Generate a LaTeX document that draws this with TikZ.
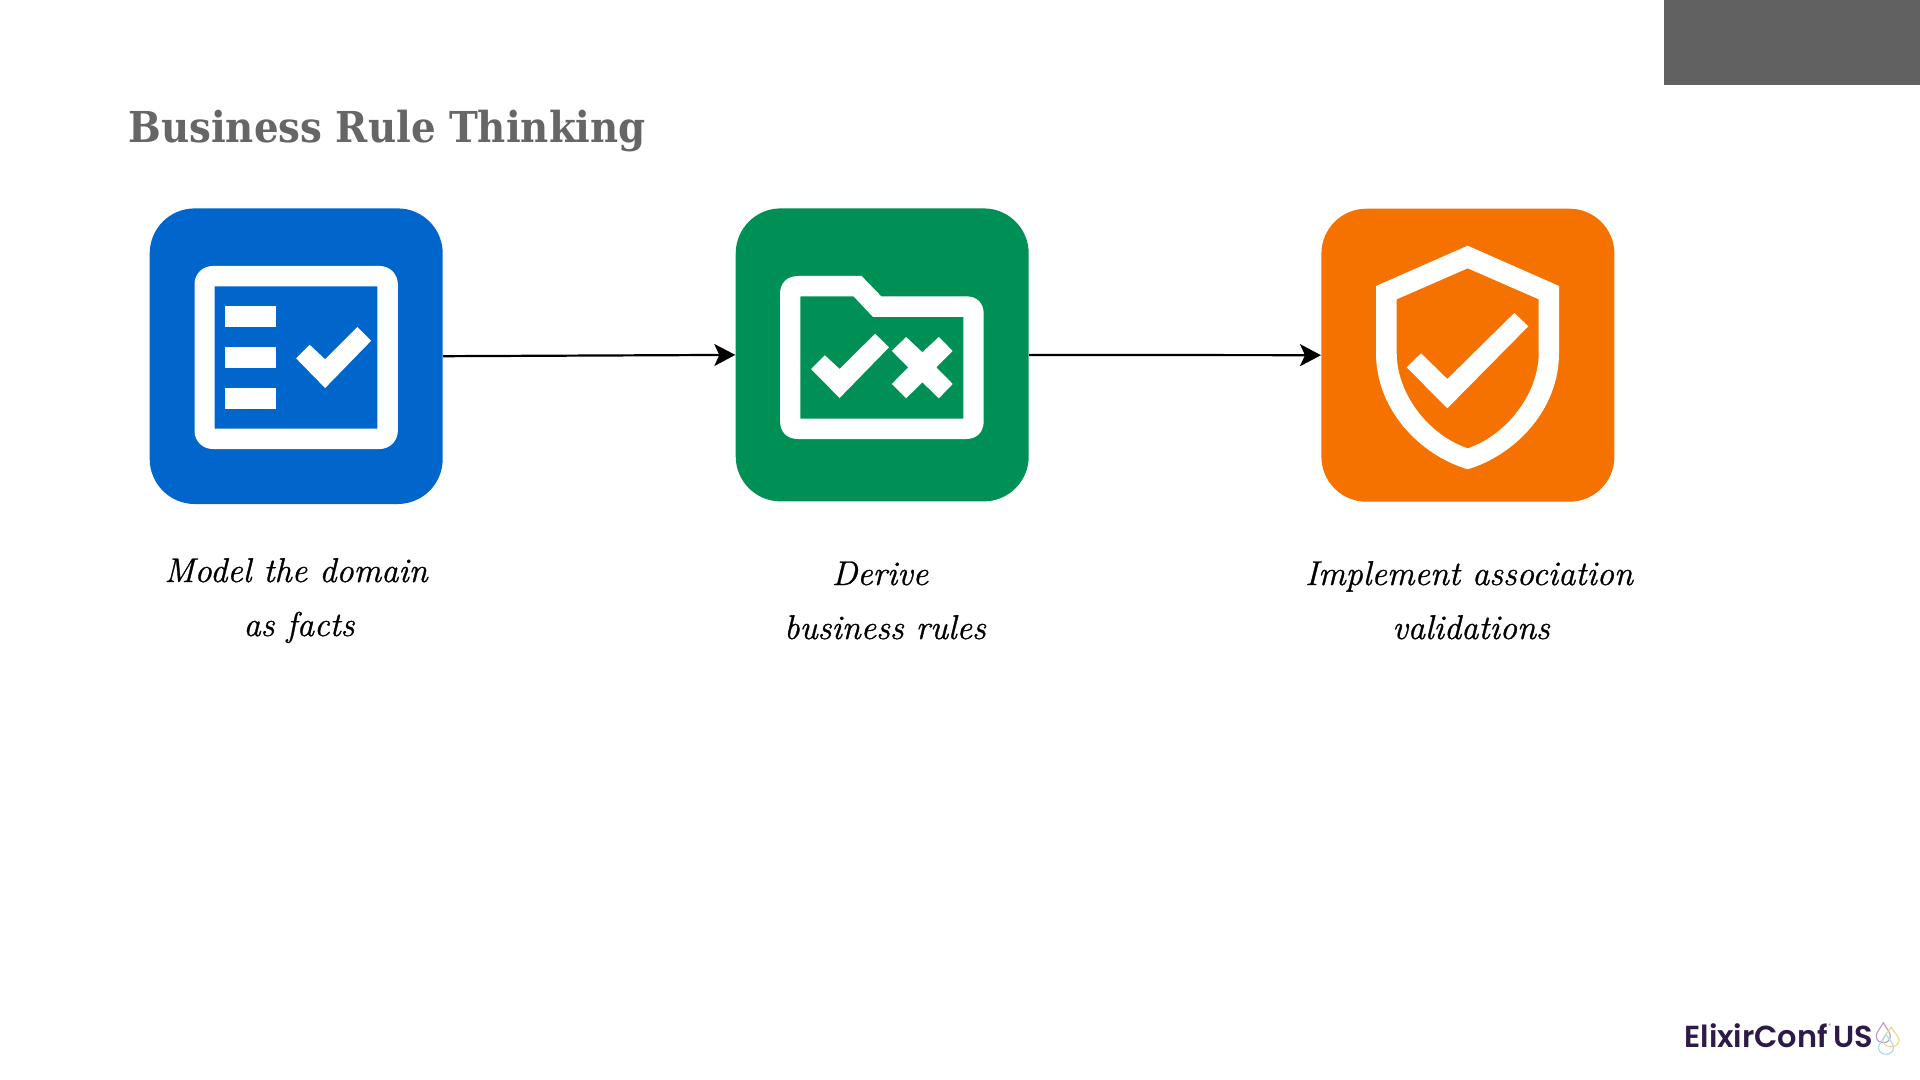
\documentclass[tikz,border=0pt]{standalone}
\usepackage{fontspec}
\usetikzlibrary{arrows.meta}
\newfontfamily\titlefont[FakeStretch=0.91]{DejaVu Serif}
\newfontfamily\logofont{Poppins SemiBold}
\newfontfamily\handfont[ItalicFeatures={FakeBold=0.9}]{Latin Modern Roman}
\definecolor{bluebox}{HTML}{0066CC}
\definecolor{greenbox}{HTML}{009055}
\definecolor{orangebox}{HTML}{F57200}
\definecolor{corner}{HTML}{616161}
\definecolor{titlegray}{HTML}{666666}
\definecolor{logopurple}{HTML}{2E1A47}
\tikzset{
  tile/.style={minimum width=146.5pt,inner sep=0pt,rounded corners=22.5pt,draw=none,anchor=north west},
  flow/.style={draw=black,line width=1.1pt,-{Stealth[length=10.5pt,width=11pt,inset=2.5pt]}},
  caption/.style={anchor=base,inner sep=0pt,font=\handfont\fontsize{17.2}{20}\selectfont\itshape,text=black},
  glyph/.style={fill=white,draw=none}
}
\begin{document}
\begin{tikzpicture}[x=0.5pt,y=-0.5pt]
\useasboundingbox (0,0) rectangle (1920,1080);
\fill[white] (0,0) rectangle (1920,1080);
\fill[corner] (1664,0) rectangle (1920,85);
\node[anchor=base west,inner sep=0pt,text=titlegray,font=\titlefont\bfseries\fontsize{21.3}{26}\selectfont] (title) at (128,143) {Business Rule Thinking};

% tiles
\node[tile,fill=bluebox,minimum height=147.8pt] (facts) at (149.3,208) {};
\node[tile,fill=greenbox,minimum height=146.5pt] (rules) at (735.3,208) {};
\node[tile,fill=orangebox,minimum height=146.5pt] (valid) at (1321,208.3) {};

% connectors
\draw[flow] (facts.east) -- (rules.west);
\draw[flow] (rules.east) -- (valid.west);

% blue icon
\fill[glyph,even odd rule,rounded corners=9pt] (194.5,266) rectangle (397.8,449)
  [sharp corners] (214.5,286.3) rectangle (377.3,428.7);
\fill[glyph] (224.7,306.3) rectangle (276,327);
\fill[glyph] (224.7,347) rectangle (276,367.7);
\fill[glyph] (224.7,387.7) rectangle (276,408.7);
\fill[glyph] (296.1,358.3) -- (309.6,344.7) -- (325.1,359.3) -- (357.3,327) -- (371.2,340.7) -- (325.1,388) -- cycle;

% green icon
\fill[glyph,even odd rule]
  (780,294) .. controls (780,283) and (787,276) .. (798,276) -- (861.6,276) -- (881.2,296.3) -- (966,296.3)
  .. controls (977,296.3) and (983.7,303) .. (983.7,314) -- (983.7,421)
  .. controls (983.7,432) and (977,439) .. (966,439) -- (798,439)
  .. controls (787,439) and (780,432) .. (780,421) -- cycle
  (800.4,296.3) -- (853.5,296.3) -- (873,317) -- (963.3,317) -- (963.3,418.7) -- (800.4,418.7) -- cycle;
\fill[glyph] (811,369) -- (824.9,355.3) -- (839.6,369) -- (875.1,333.7) -- (889,347.3) -- (839.6,398) -- cycle;
\fill[glyph] (906.1,337) -- (922.4,352.3) -- (938.8,337) -- (952.7,351) -- (936.3,367.3) -- (952.7,384) -- (938.8,398.3) -- (922.4,382.3) -- (906.1,398.3) -- (891.8,384) -- (908.2,367.3) -- (891.8,351) -- cycle;

% orange icon
\fill[glyph,even odd rule]
  (1467.7,245.7) -- (1559,286) -- (1559,353) .. controls (1559,410) and (1515,455) .. (1467.7,469.3)
  .. controls (1420,455) and (1376,410) .. (1376,353) -- (1376,286) -- cycle
  (1467.7,268.3) -- (1538.7,299.3) -- (1538.7,353) .. controls (1538.7,395) and (1505,436) .. (1467.7,448.3)
  .. controls (1430,436) and (1396.7,395) .. (1396.7,353) -- (1396.7,299.3) -- cycle;
\fill[glyph] (1406.7,367.3) -- (1421,353.3) -- (1447.3,379) -- (1514.3,313) -- (1528.3,326.3) -- (1447.3,408.3) -- cycle;

% captions
\node[caption] (cap1a) at (296,582) {Model the domain};
\node[caption] (cap1b) at (299,636) {as facts};
\node[caption] (cap2a) at (880,585) {Derive};
\node[caption] (cap2b) at (885,639) {business rules};
\node[caption] (cap3a) at (1469,585) {Implement association};
\node[caption] (cap3b) at (1471,639) {validations};

% logo
\node[anchor=base west,inner sep=0pt,text=logopurple,font=\logofont\fontsize{15.2}{18}\selectfont] (logoa) at (1684,1047.7) {ElixirConf};
\node[anchor=base west,inner sep=0pt,text=logopurple,font=\logofont\fontsize{15.2}{18}\selectfont] (logob) at (1833,1047.7) {US};
\node[anchor=center,inner sep=0pt,text=logopurple!60,font=\logofont\fontsize{2.5}{3}\selectfont] (logoc) at (1830,1026) {®};
\foreach \cx/\ty/\r/\h/\c in {1883.3/1022.7/7/20/B89BC0,1891/1027.3/8/19.4/E8D98A,1886/1034.3/7.5/20/A9D9E4}{
  \definecolor{dropc}{HTML}{\c}
  \begin{scope}[shift={(\cx,\ty)},x=\r*0.5pt,y=-\h*0.5pt]
    \draw[dropc,line width=0.55pt] (0,0) .. controls (0.45,0.3) and (1,0.45) .. (1,0.68)
      .. controls (1,0.88) and (0.5,1) .. (0,1) .. controls (-0.5,1) and (-1,0.88) .. (-1,0.68)
      .. controls (-1,0.45) and (-0.45,0.3) .. (0,0) -- cycle;
  \end{scope}
}
\end{tikzpicture}
\end{document}
